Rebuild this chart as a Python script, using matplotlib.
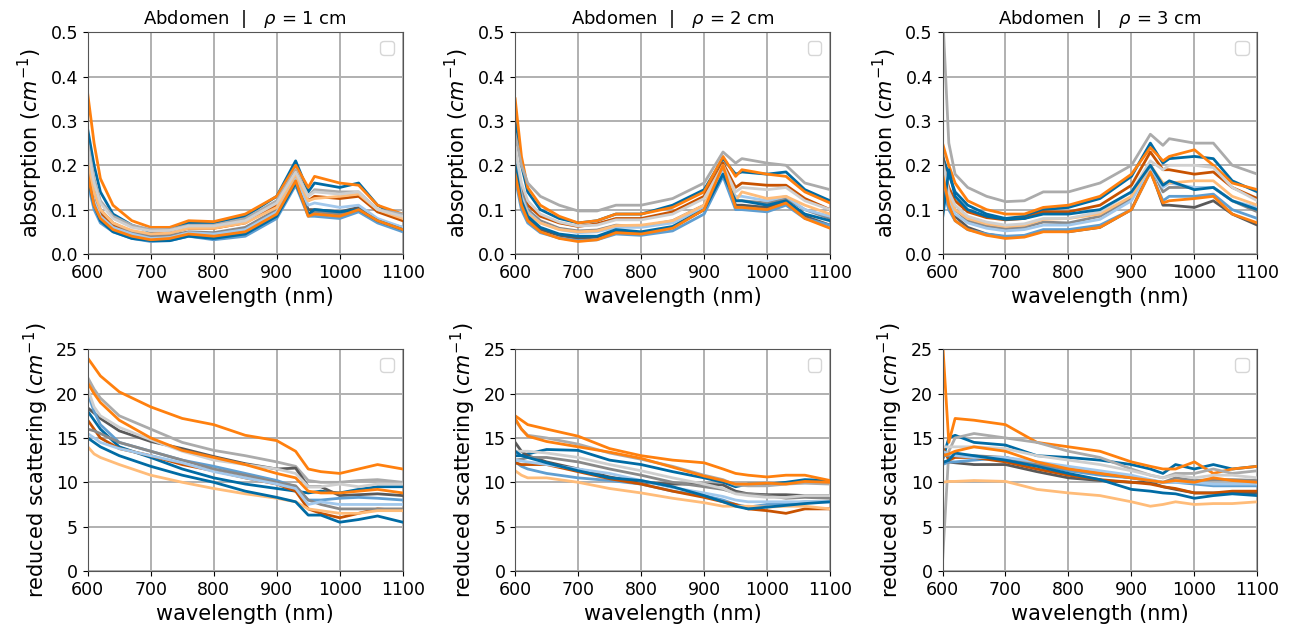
from matplotlib import pyplot as plt
import numpy as np

# tableau-colorblind10 cycle, 12 spectra per panel (cycle wraps twice)
COLORS = ["#006BA4", "#FF800E", "#ABABAB", "#595959", "#5F9ED1",
          "#C85200", "#898989", "#A2C8EC", "#FFBC79", "#CFCFCF",
          "#006BA4", "#FF800E"]

RHO = [1, 2, 3]

wl_abs = [600, 610, 620, 640, 670, 700, 730, 760, 800, 850, 900, 930, 950, 960, 1000, 1030, 1060, 1100]
wl_sca = [600, 610, 620, 650, 700, 750, 800, 850, 900, 930, 950, 970, 1000, 1030, 1060, 1100]

# absorption (cm^-1), rows follow COLORS
abs_rho1 = [
    [0.28, 0.20, 0.14, 0.09, 0.065, 0.050, 0.055, 0.070, 0.070, 0.085, 0.13, 0.21, 0.14, 0.16, 0.15, 0.16, 0.11, 0.08],
    [0.36, 0.25, 0.17, 0.11, 0.075, 0.060, 0.060, 0.075, 0.073, 0.090, 0.13, 0.20, 0.15, 0.175, 0.16, 0.155, 0.11, 0.09],
    [0.25, 0.17, 0.12, 0.085, 0.065, 0.055, 0.055, 0.065, 0.065, 0.080, 0.12, 0.19, 0.13, 0.145, 0.14, 0.14, 0.10, 0.09],
    [0.22, 0.13, 0.09, 0.06, 0.045, 0.035, 0.035, 0.045, 0.040, 0.050, 0.09, 0.175, 0.10, 0.10, 0.095, 0.105, 0.075, 0.055],
    [0.16, 0.10, 0.07, 0.05, 0.035, 0.028, 0.030, 0.040, 0.032, 0.040, 0.08, 0.155, 0.085, 0.085, 0.08, 0.095, 0.07, 0.05],
    [0.20, 0.13, 0.09, 0.065, 0.050, 0.045, 0.048, 0.058, 0.058, 0.070, 0.11, 0.185, 0.12, 0.13, 0.125, 0.13, 0.095, 0.075],
    [0.23, 0.15, 0.10, 0.07, 0.050, 0.040, 0.042, 0.050, 0.048, 0.060, 0.10, 0.17, 0.09, 0.095, 0.09, 0.10, 0.075, 0.06],
    [0.19, 0.12, 0.085, 0.06, 0.045, 0.035, 0.037, 0.048, 0.045, 0.055, 0.095, 0.17, 0.11, 0.115, 0.105, 0.11, 0.08, 0.06],
    [0.21, 0.14, 0.10, 0.07, 0.053, 0.045, 0.047, 0.058, 0.058, 0.070, 0.105, 0.18, 0.12, 0.125, 0.13, 0.135, 0.10, 0.08],
    [0.24, 0.16, 0.115, 0.08, 0.060, 0.052, 0.053, 0.063, 0.063, 0.075, 0.115, 0.185, 0.13, 0.14, 0.135, 0.14, 0.10, 0.085],
    [0.17, 0.11, 0.075, 0.05, 0.035, 0.030, 0.030, 0.040, 0.035, 0.045, 0.085, 0.16, 0.09, 0.10, 0.095, 0.10, 0.075, 0.055],
    [0.18, 0.11, 0.08, 0.055, 0.040, 0.032, 0.035, 0.045, 0.040, 0.050, 0.09, 0.165, 0.085, 0.09, 0.085, 0.10, 0.075, 0.055],
]
abs_rho2 = [
    [0.30, 0.20, 0.14, 0.10, 0.080, 0.070, 0.075, 0.090, 0.090, 0.110, 0.145, 0.215, 0.18, 0.185, 0.18, 0.185, 0.145, 0.12],
    [0.35, 0.22, 0.15, 0.11, 0.085, 0.070, 0.075, 0.090, 0.090, 0.105, 0.14, 0.22, 0.175, 0.19, 0.18, 0.175, 0.14, 0.115],
    [0.27, 0.20, 0.16, 0.13, 0.110, 0.097, 0.097, 0.110, 0.110, 0.125, 0.16, 0.23, 0.205, 0.215, 0.205, 0.20, 0.16, 0.145],
    [0.19, 0.12, 0.08, 0.055, 0.042, 0.035, 0.038, 0.052, 0.048, 0.060, 0.10, 0.19, 0.11, 0.11, 0.105, 0.12, 0.085, 0.065],
    [0.17, 0.10, 0.07, 0.048, 0.036, 0.030, 0.032, 0.045, 0.042, 0.052, 0.09, 0.175, 0.10, 0.10, 0.095, 0.11, 0.08, 0.065],
    [0.22, 0.15, 0.11, 0.085, 0.070, 0.062, 0.068, 0.080, 0.080, 0.095, 0.13, 0.205, 0.15, 0.16, 0.155, 0.155, 0.125, 0.10],
    [0.22, 0.14, 0.10, 0.075, 0.058, 0.052, 0.054, 0.065, 0.062, 0.075, 0.11, 0.19, 0.12, 0.12, 0.115, 0.125, 0.10, 0.08],
    [0.21, 0.13, 0.095, 0.07, 0.055, 0.048, 0.050, 0.060, 0.060, 0.070, 0.105, 0.185, 0.13, 0.13, 0.12, 0.13, 0.10, 0.085],
    [0.20, 0.12, 0.09, 0.07, 0.055, 0.050, 0.052, 0.064, 0.065, 0.075, 0.11, 0.20, 0.12, 0.14, 0.125, 0.13, 0.11, 0.09],
    [0.24, 0.16, 0.12, 0.09, 0.072, 0.063, 0.065, 0.077, 0.077, 0.090, 0.125, 0.20, 0.14, 0.15, 0.145, 0.15, 0.12, 0.10],
    [0.20, 0.12, 0.085, 0.06, 0.045, 0.040, 0.040, 0.055, 0.050, 0.062, 0.10, 0.18, 0.12, 0.12, 0.11, 0.12, 0.09, 0.075],
    [0.18, 0.11, 0.075, 0.05, 0.035, 0.028, 0.032, 0.048, 0.045, 0.058, 0.10, 0.20, 0.105, 0.105, 0.10, 0.115, 0.08, 0.058],
]
abs_rho3 = [
    [0.22, 0.18, 0.14, 0.11, 0.090, 0.080, 0.085, 0.100, 0.105, 0.125, 0.175, 0.25, 0.205, 0.215, 0.22, 0.215, 0.165, 0.14],
    [0.25, 0.20, 0.16, 0.12, 0.100, 0.090, 0.090, 0.105, 0.110, 0.130, 0.18, 0.24, 0.21, 0.22, 0.235, 0.20, 0.16, 0.145],
    [0.55, 0.25, 0.18, 0.15, 0.130, 0.118, 0.120, 0.140, 0.140, 0.160, 0.20, 0.27, 0.245, 0.26, 0.25, 0.25, 0.20, 0.18],
    [0.23, 0.12, 0.085, 0.06, 0.045, 0.038, 0.040, 0.052, 0.050, 0.060, 0.10, 0.19, 0.11, 0.11, 0.105, 0.12, 0.09, 0.065],
    [0.15, 0.10, 0.075, 0.055, 0.045, 0.040, 0.042, 0.055, 0.055, 0.065, 0.10, 0.185, 0.12, 0.13, 0.13, 0.135, 0.10, 0.08],
    [0.20, 0.15, 0.12, 0.095, 0.082, 0.077, 0.080, 0.095, 0.095, 0.110, 0.155, 0.23, 0.19, 0.19, 0.18, 0.185, 0.15, 0.125],
    [0.20, 0.13, 0.10, 0.075, 0.063, 0.057, 0.060, 0.072, 0.070, 0.085, 0.125, 0.20, 0.14, 0.15, 0.15, 0.15, 0.12, 0.095],
    [0.17, 0.12, 0.09, 0.07, 0.058, 0.052, 0.055, 0.065, 0.065, 0.078, 0.12, 0.195, 0.15, 0.16, 0.15, 0.15, 0.12, 0.105],
    [0.19, 0.13, 0.10, 0.08, 0.068, 0.062, 0.065, 0.078, 0.080, 0.090, 0.13, 0.20, 0.16, 0.16, 0.165, 0.165, 0.13, 0.11],
    [0.21, 0.14, 0.11, 0.085, 0.072, 0.065, 0.068, 0.080, 0.080, 0.095, 0.14, 0.21, 0.19, 0.20, 0.20, 0.195, 0.15, 0.12],
    [0.08, 0.19, 0.13, 0.10, 0.085, 0.078, 0.080, 0.090, 0.090, 0.100, 0.14, 0.20, 0.155, 0.165, 0.145, 0.15, 0.12, 0.10],
    [0.18, 0.11, 0.075, 0.055, 0.042, 0.035, 0.038, 0.050, 0.050, 0.060, 0.10, 0.185, 0.115, 0.12, 0.125, 0.13, 0.09, 0.07],
]

# reduced scattering (cm^-1), rows follow COLORS
sca_rho1 = [
    [18.0, 17.0, 16.0, 14.0, 12.8, 11.5, 10.5, 9.8, 9.3, 9.0, 8.8, 9.0, 8.8, 9.2, 9.5, 9.5],
    [24.0, 23.0, 22.0, 20.2, 18.5, 17.2, 16.5, 15.3, 14.7, 13.5, 11.5, 11.2, 11.0, 11.5, 12.0, 11.5],
    [21.8, 20.5, 19.5, 17.5, 16.0, 14.5, 13.6, 13.0, 12.3, 11.8, 10.2, 10.0, 10.0, 10.2, 10.3, 10.0],
    [18.4, 17.8, 17.2, 15.8, 14.6, 13.8, 12.9, 12.1, 11.5, 11.6, 9.5, 9.5, 8.5, 8.6, 8.7, 8.5],
    [20.0, 18.0, 16.5, 14.5, 13.5, 12.5, 11.8, 11.0, 10.2, 9.5, 8.0, 8.0, 8.2, 8.3, 8.2, 8.0],
    [17.0, 16.0, 15.0, 13.8, 13.0, 12.0, 11.3, 10.5, 9.8, 9.0, 7.0, 6.5, 6.0, 6.5, 7.0, 6.8],
    [16.0, 15.8, 15.5, 14.5, 13.5, 12.5, 11.5, 10.8, 10.0, 9.6, 8.0, 7.5, 7.0, 7.0, 7.0, 7.0],
    [15.5, 15.0, 14.5, 13.8, 13.0, 12.2, 11.2, 10.5, 9.8, 9.3, 7.5, 7.8, 7.5, 7.5, 7.5, 7.5],
    [14.0, 13.2, 12.8, 12.0, 10.8, 10.0, 9.3, 8.7, 8.2, 7.8, 7.0, 6.8, 6.5, 6.5, 6.8, 6.8],
    [20.5, 18.5, 17.5, 16.2, 14.8, 13.5, 12.5, 12.0, 11.5, 11.0, 9.5, 9.5, 9.8, 9.5, 9.8, 9.8],
    [15.0, 14.5, 14.0, 13.0, 11.8, 10.8, 10.0, 9.0, 8.3, 7.8, 6.3, 6.3, 5.5, 5.8, 6.2, 5.5],
    [21.2, 20.0, 19.0, 17.0, 15.0, 13.6, 12.8, 12.0, 11.0, 10.5, 9.0, 8.8, 8.8, 9.0, 9.2, 8.8],
]
sca_rho2 = [
    [13.0, 13.0, 13.2, 13.7, 13.6, 12.5, 12.0, 11.2, 10.5, 10.0, 9.5, 9.8, 9.8, 10.0, 10.3, 10.2],
    [17.5, 17.0, 16.5, 16.0, 15.2, 13.8, 13.0, 12.5, 12.2, 11.5, 11.0, 10.8, 10.6, 10.8, 10.8, 10.2],
    [17.0, 16.0, 15.3, 15.0, 14.3, 13.3, 12.6, 11.8, 10.8, 10.3, 9.7, 9.6, 9.6, 9.8, 9.9, 9.8],
    [14.5, 13.5, 13.0, 12.3, 11.5, 10.6, 10.0, 9.8, 9.8, 9.7, 9.0, 8.7, 8.6, 8.6, 8.5, 8.5],
    [12.3, 11.8, 11.5, 11.0, 10.5, 10.2, 9.8, 9.0, 8.5, 8.0, 7.5, 7.2, 7.5, 7.6, 7.8, 7.8],
    [12.2, 12.0, 12.0, 12.0, 11.2, 10.4, 9.8, 9.0, 8.3, 7.8, 7.5, 7.0, 6.8, 6.5, 7.0, 7.0],
    [12.5, 12.6, 12.8, 12.8, 12.3, 11.5, 10.8, 10.0, 9.5, 9.2, 8.8, 8.7, 8.5, 8.2, 8.3, 8.2],
    [12.5, 12.4, 12.3, 12.0, 11.5, 11.0, 10.2, 9.4, 8.8, 8.4, 8.0, 7.8, 7.8, 7.8, 7.8, 7.8],
    [11.3, 10.8, 10.5, 10.5, 10.0, 9.3, 8.8, 8.2, 7.7, 7.3, 7.3, 7.3, 7.2, 7.3, 7.3, 7.0],
    [13.5, 13.5, 13.5, 13.3, 12.8, 12.0, 11.3, 10.5, 9.8, 9.3, 8.7, 8.5, 8.3, 8.3, 8.5, 8.5],
    [13.5, 13.0, 12.8, 12.2, 11.3, 10.5, 10.2, 9.5, 8.5, 7.8, 7.3, 7.0, 7.2, 7.4, 7.6, 7.8],
    [17.2, 16.0, 15.2, 14.6, 14.0, 13.4, 12.7, 11.7, 10.7, 10.2, 9.8, 9.8, 9.9, 9.8, 10.1, 10.0],
]
sca_rho3 = [
    [12.5, 15.0, 15.3, 14.5, 14.2, 13.0, 12.8, 12.5, 12.0, 11.5, 11.0, 12.0, 11.5, 12.0, 11.5, 11.8],
    [26.0, 14.5, 17.2, 17.0, 16.5, 14.5, 14.0, 13.5, 12.3, 11.8, 11.5, 11.5, 12.3, 11.0, 11.5, 11.8],
    [1.0, 13.5, 15.0, 15.5, 15.0, 14.5, 13.5, 12.8, 11.5, 10.8, 10.5, 11.0, 11.0, 11.5, 11.0, 11.3],
    [12.3, 12.3, 12.2, 12.0, 12.0, 11.2, 10.5, 10.2, 10.0, 10.0, 9.5, 9.2, 8.8, 8.8, 8.8, 8.8],
    [12.0, 12.3, 12.3, 12.5, 12.8, 12.0, 11.3, 10.8, 10.5, 10.2, 10.0, 10.0, 9.8, 9.6, 9.6, 9.6],
    [14.0, 12.5, 12.8, 12.8, 12.3, 11.5, 10.8, 10.3, 10.0, 9.8, 9.5, 9.3, 8.8, 8.8, 9.0, 9.0],
    [13.0, 13.0, 13.0, 13.0, 12.8, 12.0, 11.5, 11.0, 10.5, 10.2, 10.0, 10.5, 10.2, 10.3, 10.3, 10.2],
    [13.5, 13.2, 13.0, 12.8, 12.8, 12.3, 11.8, 11.3, 10.8, 10.3, 10.0, 10.0, 10.0, 9.8, 9.8, 9.8],
    [10.0, 10.1, 10.1, 10.2, 10.1, 9.2, 8.8, 8.5, 7.8, 7.3, 7.5, 7.8, 7.5, 7.6, 7.6, 7.8],
    [14.0, 14.0, 14.0, 14.0, 13.8, 13.0, 12.5, 12.0, 11.3, 10.8, 10.5, 10.8, 10.5, 10.8, 10.8, 10.5],
    [12.2, 12.5, 13.3, 13.0, 12.5, 11.8, 11.0, 10.3, 9.2, 9.0, 8.8, 8.7, 8.2, 8.5, 8.7, 8.5],
    [13.0, 13.2, 13.5, 14.0, 13.5, 12.3, 11.5, 11.0, 10.5, 10.2, 10.0, 10.2, 10.0, 10.5, 10.2, 10.0],
]

absorption = [abs_rho1, abs_rho2, abs_rho3]
scattering = [sca_rho1, sca_rho2, sca_rho3]

plt.rcParams["font.size"] = 12.5
plt.rcParams["axes.labelsize"] = 15
plt.rcParams["axes.edgecolor"] = "#555555"
plt.rcParams["grid.color"] = "#b0b0b0"
plt.rcParams["grid.linewidth"] = 1.4

fig, axes = plt.subplots(2, 3, figsize=(12.91, 6.33), dpi=100)
fig.subplots_adjust(left=0.068, right=0.974, top=0.949, bottom=0.098,
                    wspace=0.357, hspace=0.43)

for col in range(3):
    ax = axes[0, col]
    for i, row in enumerate(absorption[col]):
        ax.plot(wl_abs, row, color=COLORS[i], linewidth=2)
    ax.set_xlim(600, 1100)
    ax.set_ylim(0, 0.5)
    ax.set_yticks(np.arange(0, 0.51, 0.1))
    ax.set_xlabel("wavelength (nm)")
    ax.set_ylabel("absorption ($cm^{-1}$)")
    ax.set_title(f"Abdomen  |   $\\rho$ = {RHO[col]} cm", fontsize=13)
    ax.grid(True)
    ax.legend(handles=[], labels=[], loc="upper right")

    ax = axes[1, col]
    for i, row in enumerate(scattering[col]):
        ax.plot(wl_sca, row, color=COLORS[i], linewidth=2)
    ax.set_xlim(600, 1100)
    ax.set_ylim(0, 25)
    ax.set_yticks(np.arange(0, 26, 5))
    ax.set_xlabel("wavelength (nm)")
    ax.set_ylabel("reduced scattering ($cm^{-1}$)")
    ax.grid(True)
    ax.legend(handles=[], labels=[], loc="upper right")

plt.savefig("out.png")
